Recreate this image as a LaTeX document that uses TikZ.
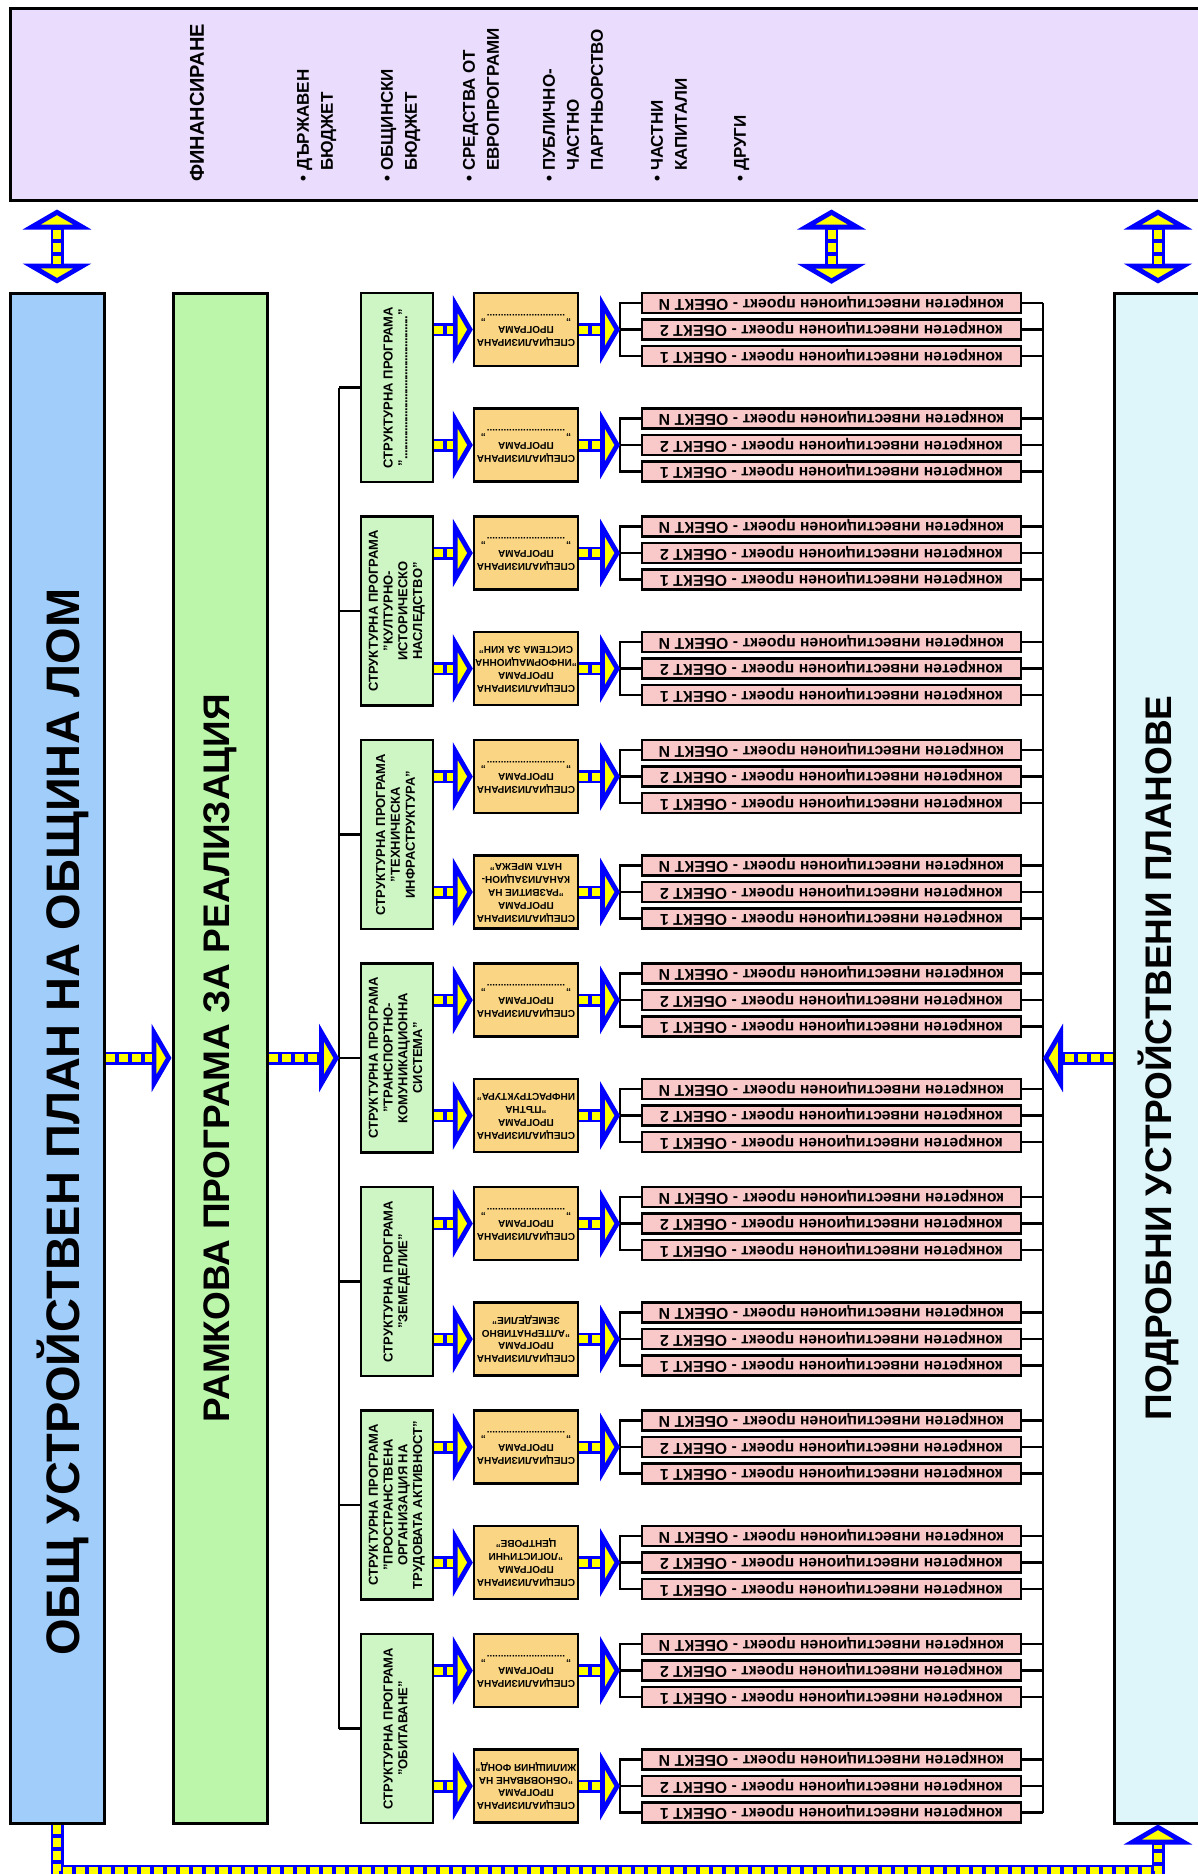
\documentclass[tikz,border=0pt]{standalone}
\usepackage{fontspec}
\setmainfont{Liberation Sans}
\usepackage{graphicx}
\usetikzlibrary{arrows.meta}

\definecolor{finpurple}{RGB}{234,220,252}
\definecolor{planblue}{RGB}{160,205,250}
\definecolor{framegreen}{RGB}{188,246,170}
\definecolor{strgreen}{RGB}{206,246,196}
\definecolor{specorange}{RGB}{250,214,132}
\definecolor{projpink}{RGB}{249,200,200}
\definecolor{detailcyan}{RGB}{222,246,250}
\definecolor{railblue}{RGB}{0,0,255}
\definecolor{railyellow}{RGB}{255,255,0}

\newcommand{\turned}[3][c]{\rotatebox{#2}{\begin{tabular}{@{}#1@{}}#3\end{tabular}}}
\newcommand{\dotrow}[1]{\makebox[#1]{\cleaders\hbox to 1.4pt{\hss.\hss}\hfill}}
\newcommand{\hang}{\phantom{\textbullet\ }}

\tikzset{
  box/.style={draw, line width=1.2pt, inner sep=0pt},
  bigbox/.style={box, line width=1.5pt, minimum width=47pt, minimum height=765pt, font=\bfseries\fontsize{18.5}{22}\selectfont},
  strbox/.style={box, fill=strgreen, minimum width=36pt, minimum height=94.5pt, font=\bfseries\fontsize{6.5}{7.4}\selectfont},
  specbox/.style={box, fill=specorange, minimum width=52pt, minimum height=36.5pt, font=\bfseries\fontsize{5}{6.4}\selectfont},
  projbox/.style={box, fill=projpink, minimum width=189.5pt, minimum height=10pt, font=\bfseries\fontsize{7.9}{8}\selectfont},
  finitem/.style={inner sep=0pt, anchor=south, font=\bfseries\fontsize{8.5}{12}\selectfont},
  link/.style={line width=1.2pt},
  railfill/.style={draw=railyellow, line width=4pt, dash pattern=on 4.5pt off 2pt, -},
  fat/.style={draw=railblue, line width=6.5pt,
    -{Triangle[width=34pt,length=10pt,line width=2.4pt,fill=railyellow,color=railblue]},
    postaction={railfill, shorten >=10pt}},
  fatboth/.style={draw=railblue, line width=6.5pt,
    {Triangle[width=34pt,length=10pt,line width=2.4pt,fill=railyellow,color=railblue]}-{Triangle[width=34pt,length=10pt,line width=2.4pt,fill=railyellow,color=railblue]},
    shorten <=4pt, shorten >=4pt,
    postaction={railfill, shorten <=14pt, shorten >=14pt}},
}

\begin{document}
\begin{tikzpicture}[x=0.5pt, y=-0.5pt]
\useasboundingbox (0,0) rectangle (1198,1874);
\clip (0,0) rectangle (1198,1874);

% financing
\node[box, line width=1.5pt, fill=finpurple, minimum width=601pt, minimum height=96pt] (fin) at (611,104) {};
\node[inner sep=0pt, anchor=south, font=\bfseries\fontsize{10}{12}\selectfont] (f0) at (197,182) {\rotatebox{90}{ФИНАНСИРАНЕ}};
\foreach \xc/\txt [count=\n] in {316/{ДЪРЖАВЕН\\\hang БЮДЖЕТ}, 400/{ОБЩИНСКИ\\\hang БЮДЖЕТ},
    482/{СРЕДСТВА ОТ\\\hang ЕВРОПРОГРАМИ}, 574/{ПУБЛИЧНО-\\\hang ЧАСТНО\\\hang ПАРТНЬОРСТВО},
    670/{ЧАСТНИ\\\hang КАПИТАЛИ}, 741/{ДРУГИ}}
  \node[finitem] (f\n) at (\xc,182) {\turned[l]{90}{\textbullet\ \txt}};

% the three long boxes
\node[bigbox, fill=planblue] (plan) at (57,1058) {};
\node[inner sep=0pt, font=\bfseries\fontsize{23.5}{28}\selectfont] (plantitle) at (63,1122) {\rotatebox{90}{ОБЩ УСТРОЙСТВЕН ПЛАН НА ОБЩИНА ЛОМ}};
\node[bigbox, fill=framegreen] (frame) at (220,1058) {\rotatebox{90}{РАМКОВА ПРОГРАМА ЗА РЕАЛИЗАЦИЯ}};
\node[bigbox, fill=detailcyan, minimum width=44pt] (detail) at (1158,1058) {\rotatebox{90}{ПОДРОБНИ УСТРОЙСТВЕНИ ПЛАНОВЕ}};

\coordinate (hub) at (339,1058);
\coordinate (spine) at (1043,1058);
\coordinate (railend) at (0,1871);

% structure programmes
\foreach \i/\stxt/\ptxt in {
  1/{"\dotrow{72pt}"}/{"\dotrow{40pt}"},
  2/{"КУЛТУРНО-\\ИСТОРИЧЕСКО\\НАСЛЕДСТВО"}/{"ИНФОРМАЦИОННА\\СИСТЕМА ЗА КИН"},
  3/{"ТЕХНИЧЕСКА\\ИНФРАСТРУКТУРА"}/{"РАЗВИТИЕ НА\\КАНАЛИЗАЦИОН-\\НАТА МРЕЖА"},
  4/{"ТРАНСПОРТНО-\\КОМУНИКАЦИОННА\\СИСТЕМА"}/{"ПЪТНА\\ИНФРАСТРУКТУРА"},
  5/{"ЗЕМЕДЕЛИЕ"}/{"АЛТЕРНАТИВНО\\ЗЕМЕДЕЛИЕ"},
  6/{"ПРОСТРАНСТВЕНА\\ОРГАНИЗАЦИЯ НА\\ТРУДОВАТА АКТИВНОСТ"}/{"ЛОГИСТИЧНИ\\ЦЕНТРОВЕ"},
  7/{"ОБИТАВАНЕ"}/{"ОБНОВЯВАНЕ НА\\ЖИЛИЩНИЯ ФОНД"}} {
  \pgfmathsetmacro\T{293+(\i-1)*223.5}
  \node[strbox] (s\i) at (397,\T+94.5) {\turned{90}{СТРУКТУРНА ПРОГРАМА\\\stxt}};
  \draw[link] (s\i.west) -- (s\i.west -| hub);
  \foreach \j/\dy/\plabel in {1/36.5/{"\dotrow{40pt}"}, 2/152/\ptxt} {
    \node[specbox] (p\i\j) at (526,\T+\dy) {\turned{180}{СПЕЦИАЛИЗИРАНА\\ПРОГРАМА\\\plabel}};
    \coordinate (b\i\j) at (620,\T+\dy);
    \foreach \dk/\obj [count=\m] in {0/N, 26.5/2, 53/1} {
      \node[projbox] (o\i\j\m) at (831.5,\T+\dy-26.5+\dk) {\rotatebox{180}{конкретен инвестиционен проект - ОБЕКТ \obj}};
      \draw[link] (o\i\j\m.east) -- (o\i\j\m.east -| spine);
    }
    \draw[link] (o\i\j1.west) -| (b\i\j) |- (o\i\j3.west);
    \draw[link] (b\i\j) -- (o\i\j2.west);
    \draw[fat] (s\i.east |- p\i\j.west) -- (p\i\j.west);
    \draw[fat] (p\i\j.east) -- (b\i\j);
  }
}
\draw[link] (s1.west -| hub) -- (s7.west -| hub);
\draw[link] (o111.east -| spine) -- (o723.east -| spine);

% big arrows
\draw[fat] (plan.east) -- (frame.west);
\draw[fat] (frame.east) -- (hub);
\draw[fat] (detail.west) -- (spine);
\draw[fatboth] (plan.north |- fin.south) -- (plan.north);
\draw[fatboth] (o111.north |- fin.south) -- (o111.north);
\draw[fatboth] (detail.north |- fin.south) -- (detail.north);
\draw[fat] (plan.south) -- (plan.south |- railend) -| (detail.south);
\end{tikzpicture}
\end{document}
